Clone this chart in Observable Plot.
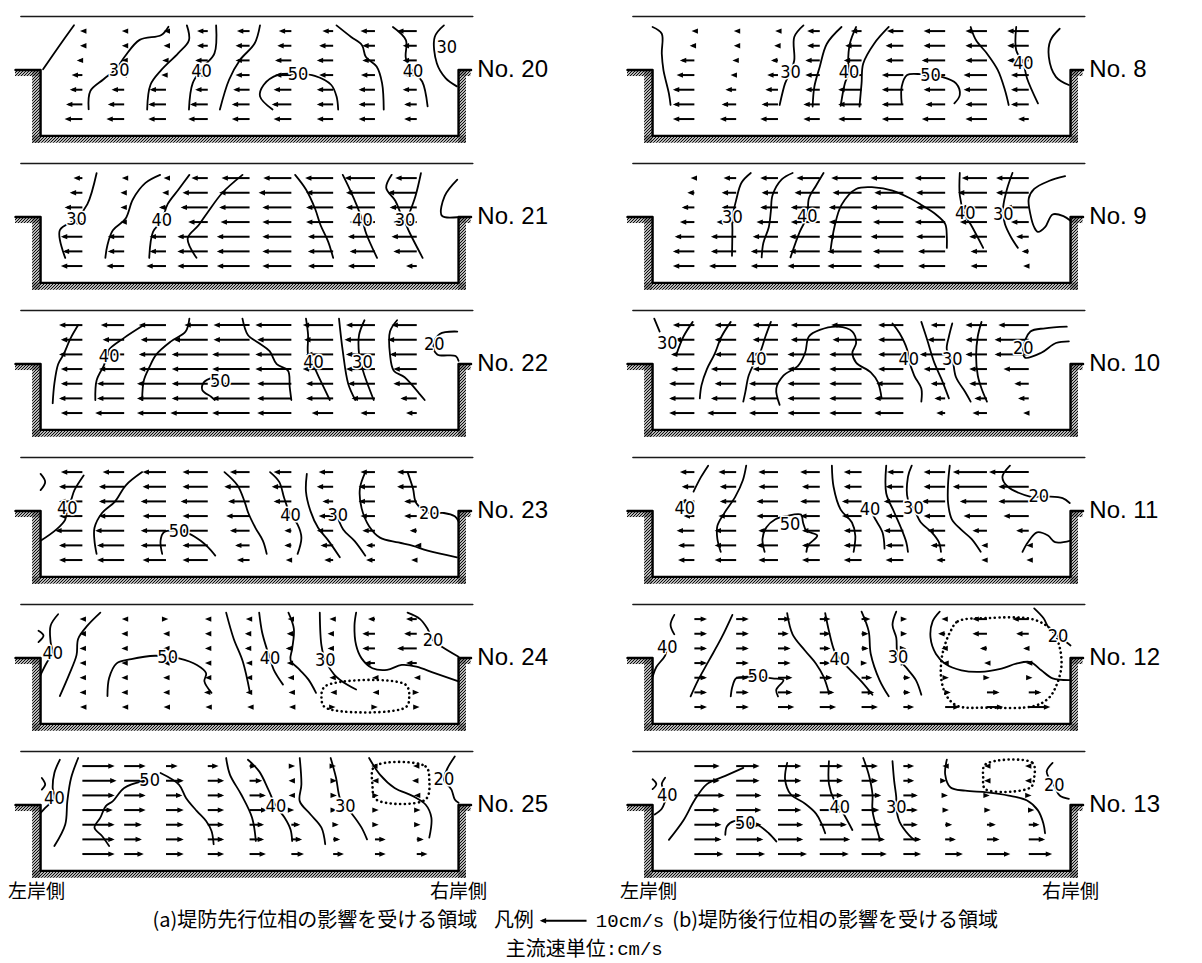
<!DOCTYPE html>
<html><head><meta charset="utf-8">
<script src="https://cdn.jsdelivr.net/npm/d3@7"></script>
<script src="https://cdn.jsdelivr.net/npm/@observablehq/plot@0.6"></script>
<style>body{margin:0;background:#fff} svg{display:block}</style>
</head><body><div id="chart"></div>
<script>
// ---- lateral velocity (cm/s), 7 depth rows (top→bottom) × 9 verticals (left bank → right bank); negative = toward left bank
const arrows20 = [
 [-0.5,-0.5,-0.5,-2.3,-2.7,-2.7,-2.3,-3.1,-4.2],
 [-0.5,-0.5,-0.5,-2.3,-3,-3,-3,-2.7,-3],
 [-1.2,-0.6,-0.8,-2.7,-3,-3.5,-3.5,-2.7,-3],
 [-2.3,-0.8,-1,-2,-3,-3.5,-3,-3,-2.7],
 [-2.7,-2.7,-3.5,-2.7,-3.5,-3.8,-3.5,-3.5,-3],
 [-3.5,-3.5,-3.8,-3.8,-3.8,-4.2,-3.5,-3.5,-2.7],
 [-3.8,-3.8,-3.8,-4.2,-3.8,-3.8,-3.5,-3.5,-2.7]];
const arrows21 = [
 [-1.9,-0.5,-0.5,-3.5,-6,-6,-6,-6.5,-4.6],
 [-2.7,-0.8,-0.8,-5.4,-6.5,-7,-5.8,-6.2,-6.2],
 [-3.8,-0.8,-1.5,-5.8,-6.5,-6.2,-5.8,-6.2,-5.8],
 [-2.3,-0.8,-1.5,-4.2,-6.2,-6.2,-5.8,-5.4,-5],
 [-4.6,-3.5,-3.5,-6.5,-7,-6.2,-5.4,-5.8,-5.4],
 [-4.2,-3.5,-3.5,-6.5,-7,-6.2,-5.4,-5.4,-5],
 [-4.6,-3.8,-4.2,-6.5,-7,-6.2,-5.4,-5.8,-2.3]];
const arrows22 = [
 [-5,-5,-5.8,-5,-7.7,-7.7,-6.5,-6.2,-5.4],
 [-4.6,-4.6,-5.4,-7.3,-7.7,-7.3,-6.2,-6.5,-6.2],
 [-5,-5,-5.8,-7.7,-8,-7.7,-5.8,-6.2,-5.8],
 [-4.6,-5.4,-5.8,-7.7,-8,-7.7,-6.5,-6.2,-5],
 [-4.6,-5.8,-6.2,-7.7,-8,-7.3,-5.8,-5.8,-5],
 [-5,-5.8,-6.2,-7.7,-8,-7.3,-5.8,-5,-3.5],
 [-4.6,-6.2,-6.2,-8,-8,-7.3,-4.6,-3.1,-2.3]];
const arrows23 = [
 [-4.6,-4.6,-5,-5.4,-4.2,-3.8,-3.1,-3.1,-4.2],
 [-5,-5.4,-5,-5.4,-5.4,-4.2,-3.5,-3.5,-4.2],
 [-5,-5.4,-5.4,-5.8,-4.6,-3.8,-2.3,-3.5,-2.7],
 [-5,-5.4,-5,-5.4,-5,-2.3,-3.1,-3.1,-2.7],
 [-5.8,-6.2,-5.4,-5.8,-4.2,-1.5,-3.5,-2.7,-1.5],
 [-5,-5.8,-5.4,-5.4,-3.1,-1.5,-2.7,-1.9,-0.4],
 [-5,-5.8,-5,-5.4,-2.7,-1.2,-1.9,-1.9,-1.2]];
const arrows24 = [
 [-0.6,-0.5,0.5,-0.6,-0.8,-0.8,-0.8,-1.5,-2.3],
 [-0.6,-0.6,-0.6,-0.6,-1,-1,-1.2,-2.7,-2.7],
 [-0.6,-0.6,-0.6,-0.6,-1,-1.2,-1.2,-2.7,-4.2],
 [-0.6,-0.6,-0.6,-0.6,-0.8,-1,-1.2,-2.3,-2.3],
 [-0.6,-0.6,-0.6,-0.6,-0.8,-0.8,-0.8,-0.6,-0.6],
 [-0.6,-0.6,-0.6,-0.8,-0.8,-0.6,-0.6,-0.5,0.5],
 [-0.5,-0.5,-0.5,-0.5,-0.5,-0.5,0.5,0.6,0.6]];
const arrows25 = [
 [6.9,4.6,2.5,2.3,1.5,0.8,0.6,-0.8,-0.8],
 [7.3,5,3.8,3.5,2.7,-0.6,0.8,-0.6,-1],
 [6.9,4.6,3.5,3.5,3.5,-0.6,0.8,0.8,-0.6],
 [6.5,4.6,3.8,3.5,3.8,0.6,0.8,0.8,0.8],
 [6.9,3.8,3.8,3.5,3.1,1.9,1.2,0.8,0.8],
 [6.9,3.8,3.8,3.5,3.1,2.3,1.5,2.3,1.5],
 [6.9,4.2,3.8,3.5,3.5,2.7,2.3,2.3,2.3]];
const arrows8 = [
 [-0.6,-0.5,-0.6,-2.7,-2.3,-3.5,-4.6,-4.6,-4.6],
 [-1,-0.5,-0.8,-2.7,-3.5,-3.8,-4.6,-4.6,-4.6],
 [-3.1,-0.8,-1.5,-3.1,-3.8,-3.8,-5,-4.6,-4.6],
 [-3.8,-1.2,-2.3,-3.1,-4.6,-4.6,-5,-5,-3.8],
 [-4.6,-2.3,-2.7,-3.1,-5,-4.6,-4.6,-5,-3.8],
 [-4.6,-3.1,-3.5,-3.5,-5,-4.6,-4.2,-4.6,-3.8],
 [-4.6,-3.5,-3.8,-3.5,-5,-4.6,-5,-4.6,-2.3]];
const arrows9 = [
 [-0.8,-2.7,-3.8,-5,-6.5,-7,-6.5,-5.4,-7],
 [-1.5,-3.1,-3.5,-5.4,-6.2,-6.2,-6.2,-6.2,-7],
 [-2.7,-3.1,-3.8,-6.2,-7,-7,-6.2,-5.8,-5],
 [-3.1,-4.2,-4.6,-6.2,-7,-6.5,-6.5,-5.8,-3.8],
 [-4.2,-5.4,-5.4,-6.5,-7.3,-7,-6.2,-3.8,-2.7],
 [-4.6,-5.4,-5.8,-6.5,-7.3,-6.5,-5.8,-3.5,-1.5],
 [-4.6,-5.8,-5.8,-6.9,-7.3,-6.5,-5.8,-3.5,-1.2]];
const arrows10 = [
 [-4.6,-4.6,-5.4,-6.2,-6.5,-5.4,-3.1,-4.6,-6.5],
 [-4.2,-4.6,-5.4,-6.2,-6.2,-5.4,-3.8,-4.6,-7.3],
 [-5,-4.6,-5.4,-6.9,-6.9,-5.4,-5.4,-4.6,-7.3],
 [-5,-5.4,-5.4,-6.9,-6.9,-5.4,-4.6,-3.8,-5.4],
 [-5.4,-4.6,-6.2,-6.9,-6.9,-5.8,-3.1,-3.8,-3.1],
 [-5.4,-5.4,-6.2,-6.9,-6.9,-6.2,-2.3,-2.7,-2.3],
 [-5.4,-6.2,-6.2,-6.9,-6.9,-6.2,-1.9,-3.1,-1.2]];
const arrows11 = [
 [-3.1,-3.8,-4.2,-4.2,-3.8,-3.5,-4.6,-7.3,-8.5],
 [-2.7,-3.5,-4.2,-3.8,-3.8,-3.8,-4.6,-7.3,-6.5],
 [-3.1,-3.5,-4.6,-4.2,-4.2,-4.2,-5,-5.8,-6.5],
 [-2.3,-3.8,-4.6,-4.2,-4.2,-3.8,-4.6,-5,-5.4],
 [-3.8,-4.6,-4.2,-3.8,-3.8,-4.2,-3.8,-3.1,-2.7],
 [-3.5,-4.6,-4.6,-3.8,-3.8,-3.8,-3.1,-1.2,-0.5],
 [-3.5,-4.6,-4.2,-3.8,-3.8,-3.8,-1.9,-1.2,-0.5]];
const arrows12 = [
 [2.7,2.7,2.7,2.3,1.9,0.8,-0.8,-3.1,-3.5],
 [2.7,2.7,2.3,2.3,1.5,0.8,-1.5,-3.1,-2.7],
 [2.7,2.7,2.7,2.3,1.5,0.6,-0.8,-1.5,-1.2],
 [2.7,2.7,2.7,2.3,1.2,0.8,-0.6,-0.6,-0.6],
 [2.7,2.7,3.1,2.7,2.3,1.5,0.8,0.6,0.8],
 [2.7,2.7,3.1,3.1,2.7,1.5,1.2,2.7,2.7],
 [2.7,2.7,3.5,3.5,3.5,2.3,3.1,3.5,4.6]];
const arrows13 = [
 [5.4,5,5,5,3.5,2.3,-0.6,-0.6,-0.8],
 [5.4,5,5,5,3.5,2.3,0.3,-0.6,-0.8],
 [6.5,5.4,5,5,4.2,3.1,0.6,0.6,0.6],
 [5.4,5.4,5,5.4,3.8,3.1,0.8,0.8,1.2],
 [5.8,5.4,5.4,5.8,4.2,3.1,1.5,1.9,2.3],
 [5.8,5.8,5.4,6.5,5,3.8,2.3,2.7,3.5],
 [6.2,6.2,6.2,6.2,5.4,3.8,3.8,5,5]];

// ---- isovels of streamwise velocity (cm/s): traced polylines [lateral, depth]
const contours20 = [
 [[0.8,0.6],[0.45,2.0],[0.06,3.6]],
 [[3.06,0.7],[2.89,1.26],[2.37,1.6],[2.02,2.72],[1.8,3.6],[1.5,4.3],[1.19,5.09],[1.15,6.33]],
 [[3.5,0.61],[3.55,1.62],[3.29,2.52],[2.89,3.65],[2.63,4.66],[2.55,6.35]],
 [[4.2,0.61],[4.16,2.52],[3.9,3.42],[3.64,4.55],[3.55,6.35]],
 [[5.25,0.61],[5.12,1.85],[4.77,2.97],[4.51,4.32],[4.29,6.35]],
 [[5.55,6.35],[5.25,5.45],[5.34,4.66],[5.68,3.99],[6.16,3.92],[6.56,4.05],[6.95,4.66],[7.08,5.45],[7.12,6.35]],
 [[7.08,0.61],[7.43,1.4],[7.69,1.96],[7.78,2.75],[8.04,3.42],[8.17,4.55],[8.21,6.35]],
 [[8.43,0.72],[8.74,1.62],[8.74,2.86],[8.91,3.76],[9.13,4.44],[9.26,6.13]],
 [[9.65,0.61],[9.43,1.4],[9.48,3.2],[9.69,4.21],[9.96,4.77]]];
const labels20 = [[1.88,3.65,"30"],[3.85,3.76,"40"],[6.16,3.92,"50"],[8.91,3.76,"40"],[9.72,2.07,"30"]];
const contours21 = [
 [[1.34,0.67],[1.12,2.78],[0.86,3.78],[0.46,4.56],[0.59,6.44]],
 [[2.86,0.78],[2.51,1.33],[2.21,2.44],[2.03,3.78],[1.73,4.56],[1.6,5.56],[1.55,6.44]],
 [[3.56,0.78],[3.3,1.78],[3.04,2.78],[2.9,3.9],[2.69,4.67],[2.6,6.44]],
 [[4.83,0.78],[4.35,2.0],[4.0,3.33],[3.78,4.22],[3.52,5.11],[3.73,6.44]],
 [[6.09,0.78],[6.35,1.78],[6.57,3.11],[6.7,4.22],[6.88,5.33],[7.0,6.44]],
 [[7.23,0.78],[7.4,1.78],[7.57,2.89],[7.7,3.89],[7.79,4.78],[8.05,6.44]],
 [[8.4,0.78],[8.27,1.67],[8.49,2.56],[8.62,3.44],[8.7,3.89],[8.84,4.78],[9.14,6.44]],
 [[9.1,0.67],[8.97,2.22],[8.8,3.56]],
 [[9.97,1.11],[9.67,2.22],[9.6,3.56],[9.97,3.67]]];
const labels21 = [[0.86,3.78,"30"],[2.9,3.9,"40"],[7.7,3.89,"40"],[8.72,3.89,"30"]];
const contours22 = [
 [[0.9,1.0],[0.72,1.89],[0.55,3.0],[0.42,3.67],[0.33,5.0],[0.29,6.33]],
 [[2.47,1.0],[1.99,1.89],[1.64,2.67],[1.6,3.11],[1.51,3.78],[1.34,4.78],[1.31,6.11]],
 [[3.56,0.56],[3.47,1.44],[3.12,2.11],[2.77,3.0],[2.6,3.89],[2.47,4.78],[2.43,6.11]],
 [[4.13,4.56],[3.91,4.89],[3.87,5.44],[4.08,5.89],[4.17,6.11]],
 [[4.83,0.56],[4.96,1.67],[5.22,2.22],[5.48,2.78],[5.65,3.67],[5.92,4.11],[5.96,5.22],[6.0,6.11]],
 [[6.35,0.56],[6.4,1.67],[6.4,3.0],[6.5,3.56],[6.66,4.56],[6.92,6.11]],
 [[7.14,0.56],[7.23,2.78],[7.36,5.0],[7.53,6.11]],
 [[7.75,0.67],[7.62,1.67],[7.62,3.0],[7.66,3.56],[7.75,4.44],[7.97,6.11]],
 [[8.53,0.67],[8.36,1.44],[8.36,3.0],[8.45,4.11],[8.71,4.56],[9.06,5.67],[9.19,6.11]],
 [[9.97,1.44],[9.55,1.6],[9.4,2.33],[9.49,3.0],[9.93,3.11],[10.0,3.44]]];
const labels22 = [[1.64,3.11,"40"],[4.3,4.85,"50"],[6.53,3.56,"40"],[7.7,3.56,"30"],[9.42,2.33,"20"]];
const contours23 = [
 [[0.0,1.12],[0.11,1.67],[0.0,2.23]],
 [[1.03,1.23],[0.81,2.23],[0.73,2.9],[0.64,3.46],[0.59,4.24],[0.38,4.91],[0.0,5.69]],
 [[2.43,1.0],[2.04,1.9],[1.78,3.01],[1.47,3.79],[1.29,4.8],[1.29,5.69],[1.34,6.58]],
 [[2.91,6.58],[2.87,5.69],[2.95,5.1],[3.31,5.0],[3.55,5.2],[3.83,5.69],[4.01,6.14],[4.18,6.7]],
 [[4.4,1.0],[4.71,1.9],[4.88,3.01],[4.97,3.79],[5.14,4.8],[5.32,5.69],[5.41,6.58]],
 [[5.49,1.0],[5.71,1.67],[5.83,2.79],[5.98,3.91],[6.15,4.58],[6.24,5.47],[6.15,6.58]],
 [[6.37,1.12],[6.35,2.34],[6.46,3.68],[6.64,4.8],[6.89,5.69],[7.16,6.81]],
 [[7.05,3.6],[7.24,4.91],[7.51,5.69],[7.77,6.7]],
 [[7.77,1.0],[7.64,2.12],[7.68,3.46],[7.86,4.69],[8.12,5.47],[8.56,5.8],[8.91,6.03],[9.26,6.36],[9.96,6.81]],
 [[8.78,1.0],[8.91,2.12],[8.99,3.13],[9.3,3.79],[9.65,3.79],[9.91,4.02],[10.0,4.35]]];
const labels23 = [[0.64,3.46,"40"],[3.31,5.02,"50"],[5.98,3.91,"40"],[7.11,3.91,"30"],[9.3,3.79,"20"]];
const contours24 = [
 [[-0.05,1.79],[0.07,2.12],[-0.05,2.57]],
 [[0.42,0.67],[0.24,1.45],[0.24,2.57],[0.29,3.35],[0.16,3.91],[0.0,4.8]],
 [[1.43,0.56],[1.12,1.45],[0.9,2.34],[0.86,3.46],[0.68,4.8],[0.46,6.25]],
 [[1.6,6.25],[1.64,5.02],[1.82,4.02],[2.17,3.73],[2.74,3.5],[3.04,3.57],[3.31,3.68],[3.74,4.13],[3.96,4.69],[3.92,5.25],[4.09,6.03]],
 [[4.44,0.56],[4.62,2.34],[4.84,3.91],[5.01,6.03]],
 [[5.23,0.56],[5.3,1.9],[5.41,3.01],[5.49,3.68],[5.58,4.46],[5.8,5.47]],
 [[5.93,0.56],[6.06,1.67],[6.02,3.01],[5.98,3.79],[6.2,4.46],[6.41,5.13],[6.59,6.03]],
 [[6.68,0.56],[6.72,2.79],[6.81,3.79],[7.03,4.8],[7.33,5.47],[7.55,5.8]],
 [[7.55,0.56],[7.51,1.45],[7.55,2.79],[7.68,3.68],[7.94,4.35],[8.29,4.46],[8.64,4.13],[8.99,4.24],[9.43,4.69],[10.0,5.25]],
 [[8.78,0.56],[9.08,1.0],[9.26,1.67],[9.39,2.46],[9.61,2.9],[10.0,3.57]]];
const labels24 = [[0.29,3.35,"40"],[3.04,3.57,"50"],[5.49,3.68,"40"],[6.81,3.79,"30"],[9.39,2.46,"20"]];
const loops24 = [[[6.81,5.58],[8.73,5.47],[8.82,6.36],[8.73,7.03],[6.81,7.03],[6.72,6.36]]];
const contours25 = [
 [[0.03,1.81],[0.11,2.26],[0.03,2.6]],
 [[0.46,0.57],[0.33,1.47],[0.29,2.49],[0.33,3.17],[0.11,3.85],[0.0,4.19]],
 [[0.9,0.45],[0.73,1.81],[0.64,3.39],[0.59,4.98],[0.33,6.45]],
 [[2.61,2.0],[2.43,2.04],[2.0,2.49],[1.73,3.39],[1.56,3.73],[1.43,4.52],[1.29,5.2],[1.47,5.77],[1.64,6.45]],
 [[2.87,1.47],[3.31,2.26],[3.48,3.17],[3.74,4.07],[3.96,4.75],[4.09,5.43],[4.14,6.33]],
 [[4.44,0.45],[4.53,1.58],[4.8,2.94],[5.06,4.52],[5.15,6.11]],
 [[4.96,0.57],[5.23,1.36],[5.45,2.6],[5.63,3.73],[5.84,4.52],[5.98,5.32],[6.02,6.11]],
 [[6.2,0.45],[6.24,2.26],[6.2,3.39],[6.46,4.3],[6.72,5.2],[6.81,6.33]],
 [[6.94,0.45],[7.07,1.81],[7.16,3.17],[7.29,3.73],[7.46,4.3],[7.68,5.2],[7.81,6.0]],
 [[7.86,0.45],[8.12,1.58],[8.47,2.49],[8.91,3.05],[9.21,3.62],[9.35,4.52],[9.3,5.88]],
 [[9.91,0.34],[9.74,1.13],[9.65,1.92],[9.83,2.6],[9.91,3.28],[10.0,3.5]]];
const labels25 = [[0.33,3.17,"40"],[2.61,1.95,"50"],[5.63,3.73,"40"],[7.29,3.73,"30"],[9.65,1.92,"20"]];
const loops25 = [[[7.99,1.02],[9.21,1.02],[9.3,1.92],[9.21,3.28],[8.03,3.28],[7.94,2.26]]];
const contours8 = [
 [[0.0,0.72],[0.22,1.18],[0.22,2.53],[0.26,3.66],[0.39,5.25],[0.43,6.04]],
 [[3.61,0.61],[3.39,1.4],[3.39,2.99],[3.3,3.78],[3.17,4.57],[3.04,6.04]],
 [[4.52,0.72],[4.17,1.86],[4.0,3.43],[3.87,4.8],[3.83,6.15]],
 [[4.87,0.72],[4.72,1.86],[4.68,3.1],[4.7,3.78],[4.6,4.57],[4.5,6.1]],
 [[5.65,0.72],[5.3,1.86],[5.04,3.21],[5.0,4.57],[4.95,6.15]],
 [[5.96,5.93],[5.96,4.8],[6.09,4.0],[6.43,3.94],[6.65,4.0],[6.91,4.12],[7.26,4.57],[7.35,5.36],[7.22,5.93]],
 [[7.61,0.72],[7.74,1.63],[8.0,2.53],[8.26,3.66],[8.43,5.02],[8.52,6.04]],
 [[8.7,0.72],[8.7,2.31],[8.87,3.21],[8.96,4.23],[9.22,5.93]],
 [[9.74,0.84],[9.52,1.63],[9.48,2.76],[9.65,4.12],[9.96,4.68]]];
const labels8 = [[3.3,3.78,"30"],[4.7,3.78,"40"],[6.65,4.0,"50"],[8.87,3.21,"40"]];
const contours9 = [
 [[2.35,0.65],[2.13,1.3],[2.0,2.5],[1.91,3.7],[1.91,4.57],[1.9,6.3]],
 [[3.35,0.65],[3.09,1.09],[2.87,2.17],[2.83,3.26],[2.78,4.35],[2.65,5.43],[2.61,6.41]],
 [[4.09,0.65],[3.91,1.52],[3.74,2.39],[3.7,3.59],[3.52,4.67],[3.3,6.41]],
 [[4.26,5.87],[4.35,4.35],[4.52,2.83],[4.87,1.74],[5.3,1.63],[5.74,1.85],[6.17,2.39],[6.43,2.83],[6.78,3.48],[7.0,4.13],[7.04,5.0],[7.04,5.76]],
 [[7.35,0.65],[7.35,2.17],[7.45,3.37],[7.65,4.35],[7.91,5.76]],
 [[8.61,0.65],[8.48,1.74],[8.39,2.93],[8.39,3.48],[8.43,4.13],[8.57,5.0],[8.74,5.76]],
 [[9.87,0.87],[9.48,1.2],[9.13,1.74],[9.0,2.39],[9.04,3.48],[9.13,4.35],[9.22,4.67],[9.39,4.35],[9.57,3.48],[9.83,3.59],[10.0,3.91]]];
const labels9 = [[1.91,3.7,"30"],[3.7,3.59,"40"],[7.48,3.37,"40"],[8.39,3.48,"30"]];
const contours10 = [
 [[0.04,0.56],[0.17,1.44]],
 [[0.96,0.78],[0.74,1.78],[0.57,3.0]],
 [[1.87,0.78],[1.65,1.78],[1.48,3.0],[1.3,4.0],[1.17,5.11],[1.13,6.0]],
 [[2.83,0.78],[2.7,1.78],[2.57,2.89],[2.48,3.33],[2.3,4.44],[2.22,5.56],[2.17,6.22]],
 [[3.04,6.44],[2.96,5.33],[3.13,4.44],[3.48,3.78],[3.65,2.89],[3.74,1.78],[4.0,1.33],[4.43,1.11],[4.78,1.44],[4.87,2.22],[4.78,2.89],[4.87,3.56],[5.22,4.22],[5.39,4.89],[5.48,6.0]],
 [[5.74,0.89],[5.91,1.56],[6.09,2.67],[6.13,3.33],[6.26,4.44],[6.43,5.33],[6.43,6.22]],
 [[6.43,0.78],[6.57,2.0],[6.74,3.56],[6.91,4.67],[7.09,6.0]],
 [[7.17,0.89],[7.09,1.78],[7.04,2.67],[7.17,3.33],[7.26,4.56],[7.48,5.56],[7.61,6.22]],
 [[7.87,0.78],[7.78,1.78],[7.74,3.11],[7.78,4.44],[7.87,5.33],[8.0,6.22]],
 [[9.91,1.11],[9.39,1.22],[9.04,1.44],[8.87,2.56],[8.91,3.22],[9.3,2.89],[9.65,2.22],[9.96,2.11]]];
const labels10 = [[0.35,2.22,"30"],[2.48,3.33,"40"],[6.13,3.33,"40"],[7.17,3.33,"30"],[8.87,2.56,"20"]];
const contours11 = [
 [[1.33,0.56],[1.16,1.33],[0.98,2.33]],
 [[2.24,0.56],[2.16,1.56],[1.98,2.67],[1.72,3.78],[1.55,4.67],[1.55,5.56],[1.63,6.44]],
 [[2.68,6.44],[2.63,5.56],[2.72,4.78],[2.94,4.22],[3.2,4.0],[3.55,3.9],[3.6,4.44],[3.68,5.0],[3.94,5.33],[3.72,6.0],[3.68,6.44]],
 [[4.29,0.56],[4.33,2.0],[4.5,3.56],[4.77,4.44],[4.85,5.33],[4.81,6.44]],
 [[5.59,0.56],[5.59,2.44],[5.77,3.67],[5.94,4.78],[6.07,5.78],[6.11,6.44]],
 [[5.2,3.56],[5.33,4.22],[5.5,5.11],[5.55,6.22]],
 [[6.2,0.56],[6.11,1.33],[6.11,2.89],[6.24,3.44],[6.42,4.44],[6.68,5.11],[6.85,5.78],[6.9,6.44]],
 [[7.11,0.56],[7.07,1.78],[7.07,3.11],[7.16,4.22],[7.37,4.89],[7.63,5.56],[7.85,6.44]],
 [[8.55,0.56],[8.37,1.33],[8.5,2.0],[9.03,2.67],[9.24,2.67],[9.46,2.67],[9.81,2.78],[9.98,3.11]],
 [[8.85,6.44],[8.98,5.78],[9.2,5.11],[9.46,5.33],[9.63,5.78],[10.0,5.67]]];
const labels11 = [[0.77,3.44,"40"],[3.29,4.56,"50"],[5.2,3.56,"40"],[6.24,3.44,"30"],[9.24,2.67,"20"]];
const contours12 = [
 [[0.52,0.71],[0.43,1.38],[0.52,2.04]],
 [[0.35,2.93],[0.3,3.49],[0.09,4.27],[0.0,4.93]],
 [[1.91,0.71],[1.65,2.27],[1.35,3.82],[1.09,5.16],[0.91,6.27]],
 [[1.87,6.27],[1.91,5.6],[2.0,5.04],[2.26,4.93],[2.52,4.93],[2.87,5.04],[3.13,5.16],[2.96,5.82],[3.0,6.27]],
 [[3.22,0.6],[3.35,2.04],[3.65,3.16],[3.91,4.04],[4.09,4.93],[4.22,6.04]],
 [[4.13,0.6],[4.22,1.82],[4.35,3.16],[4.48,3.71],[4.7,4.38],[5.0,5.27],[5.26,6.16]],
 [[5.0,0.49],[5.17,1.82],[5.22,3.38],[5.43,5.16],[5.65,6.27]],
 [[5.83,0.49],[5.74,1.38],[5.83,2.27],[5.87,3.6],[6.09,4.38],[6.3,5.16],[6.43,6.16]],
 [[6.87,0.49],[6.7,1.16],[6.65,2.27],[6.78,3.38],[7.0,4.04],[7.39,4.49],[7.83,4.6],[8.35,4.38],[8.7,4.04],[9.04,3.93],[9.3,4.49],[9.57,5.04],[10.0,5.16]],
 [[9.13,0.27],[9.35,0.93],[9.48,1.6],[9.7,2.16],[9.91,2.6],[10.0,2.8]]];
const labels12 = [[0.35,2.93,"40"],[2.52,4.93,"50"],[4.48,3.71,"40"],[5.87,3.6,"30"],[9.7,2.16,"20"]];
const loops12 = [[[7.13,1.82],[7.3,1.16],[8.0,0.93],[9.13,1.04],[9.57,1.82],[9.74,2.93],[9.78,4.27],[9.65,5.6],[9.48,6.38],[9.13,6.93],[8.0,7.04],[7.3,6.93],[7.04,6.27],[6.91,5.16],[6.91,3.82],[7.0,2.71]]];
const contours13 = [
 [[0.0,1.9],[0.09,2.23],[0.0,2.57]],
 [[0.3,1.79],[0.22,2.23],[0.26,2.57]],
 [[0.35,3.01],[0.3,3.4],[0.22,3.91],[0.05,4.3]],
 [[2.17,1.12],[1.74,1.67],[1.3,2.23],[1.0,3.35],[0.74,4.69],[0.39,6.03]],
 [[1.74,5.69],[1.78,5.1],[1.95,4.75],[2.22,4.85],[2.52,5.02],[2.78,5.58],[2.96,6.14]],
 [[3.22,0.78],[3.17,1.9],[3.3,2.9],[3.65,3.57],[3.91,4.24],[4.04,4.91],[4.13,5.58]],
 [[4.22,0.67],[4.22,2.23],[4.35,3.35],[4.48,3.84],[4.61,4.46],[4.78,5.36]],
 [[5.04,0.45],[5.17,1.56],[5.26,2.9],[5.26,4.02],[5.35,5.13],[5.43,5.92]],
 [[5.74,0.67],[5.78,2.01],[5.83,3.13],[5.83,3.84],[5.91,4.8],[6.13,5.69],[6.26,6.03]],
 [[7.04,0.56],[7.0,1.56],[7.13,2.46],[7.48,2.68],[8.0,2.79],[8.52,3.01],[8.96,3.35],[9.22,4.02],[9.35,4.91],[9.39,5.58]],
 [[9.57,0.78],[9.43,1.34],[9.48,1.79],[9.61,2.34],[9.74,3.01],[9.96,3.24]]];
const labels13 = [[0.35,3.01,"40"],[2.22,4.91,"50"],[4.48,3.84,"40"],[5.83,3.84,"30"],[9.61,2.34,"20"]];
const loops13 = [[[7.96,0.89],[9.09,0.78],[9.13,1.79],[9.04,2.46],[7.96,2.57],[7.91,1.79]]];

// ---- channel geometry (lateral units: walls at 0 and 10; depth units: surface at 0)
const LEDGE = 3.65, BED = 8.15;
const surfaceLine = [[-0.47, 0], [10.34, 0]];
const channelOutline = [[-0.6, LEDGE], [0, LEDGE], [0, BED], [10, BED], [10, LEDGE], [10.3, LEDGE]];
const hatchBlocks = [[-0.6, 0, LEDGE, LEDGE + 0.45], [-0.19, 0, LEDGE, BED + 0.5], [-0.19, 10.19, BED, BED + 0.5], [10, 10.19, LEDGE, BED + 0.5], [10, 10.3, LEDGE, LEDGE + 0.45]];
const K = 0.112;             // lateral units per cm/s
const LEGEND_SPEED = -10;    // legend arrow: 10 cm/s

// ---- panel table
const panels = [
 {no:20,col:"a",row:0,arrows:arrows20,contours:contours20,labels:labels20,loops:[]},
 {no:21,col:"a",row:1,arrows:arrows21,contours:contours21,labels:labels21,loops:[]},
 {no:22,col:"a",row:2,arrows:arrows22,contours:contours22,labels:labels22,loops:[]},
 {no:23,col:"a",row:3,arrows:arrows23,contours:contours23,labels:labels23,loops:[]},
 {no:24,col:"a",row:4,arrows:arrows24,contours:contours24,labels:labels24,loops:loops24},
 {no:25,col:"a",row:5,arrows:arrows25,contours:contours25,labels:labels25,loops:loops25},
 {no:8,col:"b",row:0,arrows:arrows8,contours:contours8,labels:labels8,loops:[]},
 {no:9,col:"b",row:1,arrows:arrows9,contours:contours9,labels:labels9,loops:[]},
 {no:10,col:"b",row:2,arrows:arrows10,contours:contours10,labels:labels10,loops:[]},
 {no:11,col:"b",row:3,arrows:arrows11,contours:contours11,labels:labels11,loops:[]},
 {no:12,col:"b",row:4,arrows:arrows12,contours:contours12,labels:labels12,loops:loops12},
 {no:13,col:"b",row:5,arrows:arrows13,contours:contours13,labels:labels13,loops:loops13}
];
const arrowData = panels.flatMap(p => p.arrows.flatMap((vals, r) => vals.map((v, c) => ({col:p.col,row:p.row,x:c+1,y:r+1,v}))));
const contourData = panels.flatMap(p => p.contours.flatMap((line, i) => line.map(([x,y]) => ({col:p.col,row:p.row,id:p.no+"-"+i,x,y}))));
const loopData = panels.flatMap(p => p.loops.flatMap((line, i) => line.map(([x,y]) => ({col:p.col,row:p.row,id:p.no+"-L"+i,x,y}))));
const labelData = panels.flatMap(p => p.labels.map(([x,y,t]) => ({col:p.col,row:p.row,x,y,t})));
const legendArrow = [{col:"b",row:5,x:-1.58,y:11.55,v:LEGEND_SPEED}];

const headLeft = {draw(ctx, size){const s=Math.sqrt(size);ctx.moveTo(0,0);ctx.lineTo(1.5*s,-0.62*s);ctx.lineTo(1.5*s,0.62*s);ctx.closePath();}};
const headRight = {draw(ctx, size){const s=Math.sqrt(size);ctx.moveTo(0,0);ctx.lineTo(-1.5*s,-0.62*s);ctx.lineTo(-1.5*s,0.62*s);ctx.closePath();}};
const tip = d => d.x + d.v * K;
const shaftEnd = d => d.x + d.v * K - Math.sign(d.v) * 0.06;

const NARROW = "'Liberation Sans Narrow','Arial Narrow','DejaVu Sans Condensed','Liberation Sans',sans-serif";
const SANS = "'Liberation Sans',Arial,sans-serif";
const JP = "'Noto Sans CJK JP','Noto Sans CJK SC',sans-serif";
const MONO = "'Liberation Mono','DejaVu Sans Mono',monospace";
const F = {fx:"col", fy:"row"};
const bottomRow = panels.filter(p => p.row === 5);

const arrowMarks = (data) => [
  Plot.link(data.filter(d => Math.abs(d.v) >= 0.9), {...F, x1:"x", y1:"y", x2: shaftEnd, y2:"y", stroke:"black", strokeWidth:2}),
  Plot.dot(data.filter(d => d.v < 0), {...F, x: tip, y:"y", symbol: headLeft, r: 2.4, fill:"black", stroke:"none"}),
  Plot.dot(data.filter(d => d.v > 0), {...F, x: tip, y:"y", symbol: headRight, r: 2.4, fill:"black", stroke:"none"})
];

const svg = Plot.plot({
  width: 1202, height: 963,
  marginLeft: 14, marginRight: 39, marginTop: 10, marginBottom: 83,
  x: {domain: [-0.6, 12.2], axis: null},
  y: {domain: [-0.2, 8.6], axis: null, reverse: true},
  fx: {domain: ["a","b"], paddingInner: 0.1256, paddingOuter: 0, axis: null},
  fy: {domain: [0,1,2,3,4,5], paddingInner: 0.12, paddingOuter: 0, axis: null},
  style: {background: "white", fontFamily: SANS, overflow: "visible"},
  marks: [
    Plot.rect(hatchBlocks, {x1: d => d[0], x2: d => d[1], y1: d => d[2], y2: d => d[3], fill: "url(#hatch)"}),
    Plot.line(channelOutline, {x: d => d[0], y: d => d[1], stroke: "black", strokeWidth: 2.4}),
    Plot.line(surfaceLine, {x: d => d[0], y: d => d[1], stroke: "#1a1a1a", strokeWidth: 1.6}),
    Plot.line(contourData, {...F, x:"x", y:"y", z:"id", curve:"catmull-rom", stroke:"black", strokeWidth:1.8}),
    Plot.line(loopData, {...F, x:"x", y:"y", z:"id", curve:"catmull-rom-closed", stroke:"black", strokeWidth:2.6, strokeDasharray:"0.1,4.6", strokeLinecap:"round"}),
    ...arrowMarks(arrowData),
    Plot.text(labelData, {...F, x:"x", y:"y", text:"t", fontSize:18, fontFamily: NARROW, fill:"black", stroke:"white", strokeWidth:3, paintOrder:"stroke"}),
    Plot.text(panels, {...F, x: () => 10.45, y: () => 3.62, text: d => "No. " + d.no, textAnchor:"start", fontSize:24, fontFamily: SANS, fill:"black"}),
    // bank labels under each column
    Plot.text(bottomRow, {...F, x: () => -0.1, y: () => 9.6, text: () => "左岸側", fontSize:19, fontFamily: JP}),
    Plot.text(bottomRow, {...F, x: () => 10, y: () => 9.6, text: () => "右岸側", fontSize:19, fontFamily: JP}),
    // captions and legend
    Plot.text(bottomRow.filter(p => p.col === "a"), {...F, x: () => 10.45, y: () => 11.55, text: () => "(a)堤防先行位相の影響を受ける領域", textAnchor:"end", fontSize:20, fontFamily: JP}),
    Plot.text(bottomRow.filter(p => p.col === "b"), {...F, x: () => 0.47, y: () => 11.55, text: () => "(b)堤防後行位相の影響を受ける領域", textAnchor:"start", fontSize:20, fontFamily: JP}),
    Plot.text(bottomRow.filter(p => p.col === "b"), {...F, x: () => 0.28, y: () => 11.55, text: () => "10cm/s", textAnchor:"end", fontSize:19, fontFamily: MONO}),
    Plot.text(bottomRow.filter(p => p.col === "b"), {...F, x: () => -2.84, y: () => 11.55, text: () => "凡例", textAnchor:"end", fontSize:20, fontFamily: JP}),
    ...arrowMarks(legendArrow),
    Plot.text(bottomRow.filter(p => p.col === "b"), {...F, x: () => -1.12, y: () => 13.5, text: () => "主流速単位", textAnchor:"end", fontSize:20, fontFamily: JP}),
    Plot.text(bottomRow.filter(p => p.col === "b"), {...F, x: () => -1.12, y: () => 13.5, text: () => ":cm/s", textAnchor:"start", fontSize:19, fontFamily: MONO})
  ]
});

const defs = d3.select(svg).insert("defs", ":first-child");
const pat = defs.append("pattern").attr("id","hatch").attr("patternUnits","userSpaceOnUse").attr("width",3).attr("height",3);
pat.append("path").attr("d","M-0.75,0.75 l1.5,-1.5 M0,3 l3,-3 M2.25,3.75 l1.5,-1.5").attr("stroke","black").attr("stroke-width",1.1);

document.getElementById("chart").appendChild(svg);
</script>
</body></html>
